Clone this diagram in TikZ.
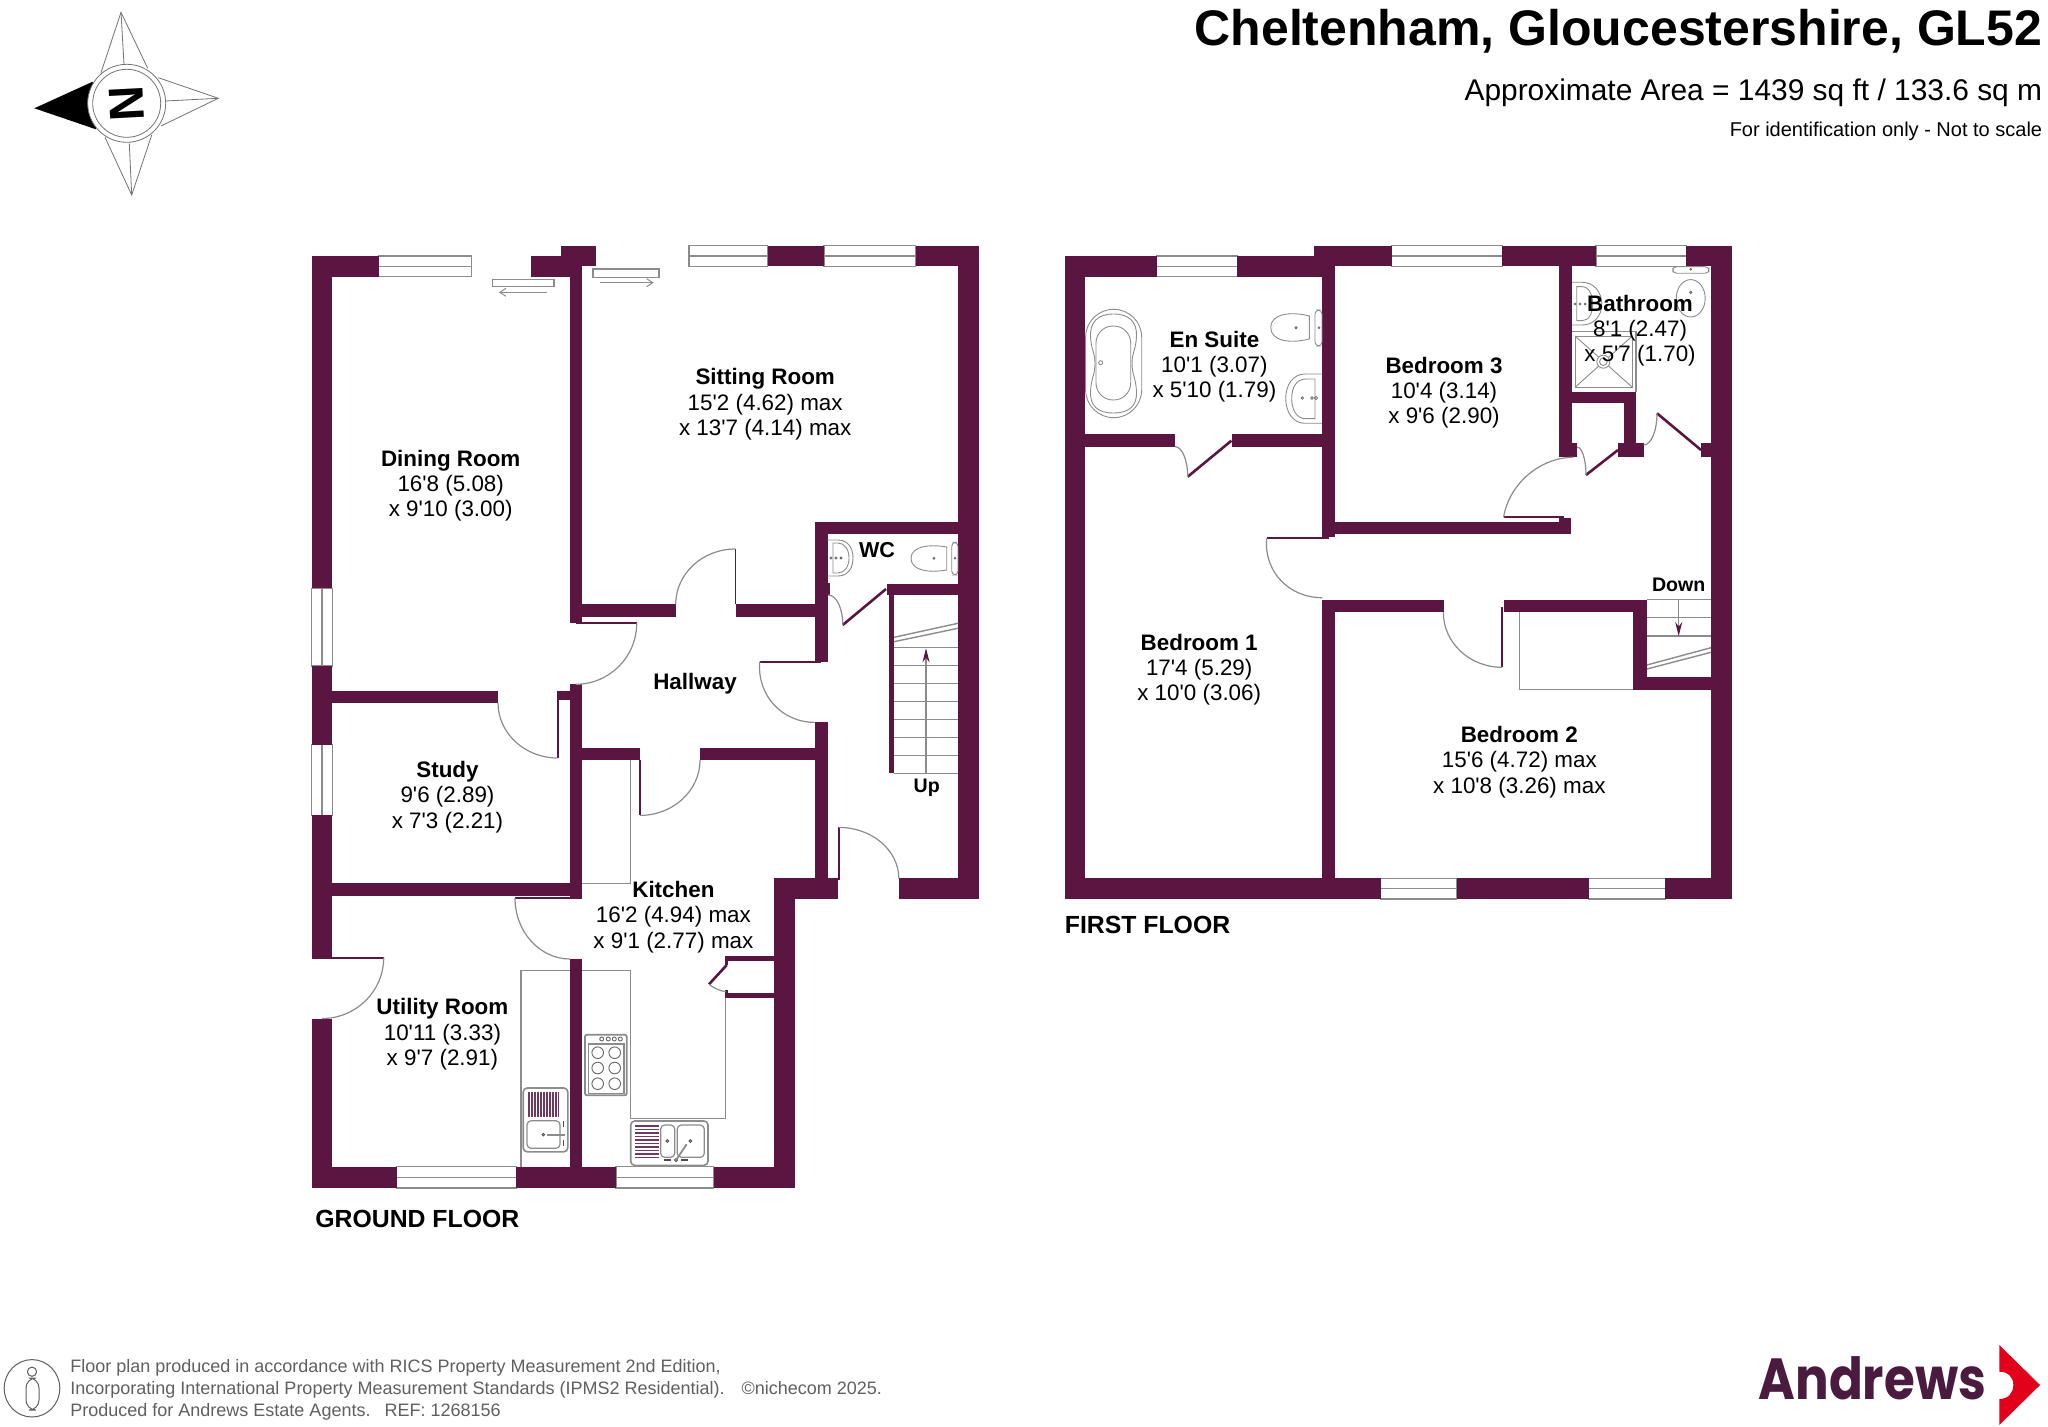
\documentclass[tikz,border=0pt]{standalone}
\usepackage{fontspec}
\setmainfont{Liberation Sans}[Ligatures=TeXOff]
\newfontfamily\logofont{Poppins}
\usetikzlibrary{calc,arrows.meta}
\definecolor{wallc}{HTML}{5A1540}
\definecolor{fixc}{HTML}{8C8C8C}
\definecolor{footc}{HTML}{606060}
\definecolor{logoc}{HTML}{4A1A3F}
\definecolor{redc}{HTML}{E2001A}
\tikzset{
  fixline/.style={draw=fixc,line width=0.6pt},
  thinfix/.style={draw=fixc,line width=0.45pt},
  stairline/.style={draw=fixc,line width=0.7pt},
  leaf/.style={draw=wallc,line width=1.3pt},
  jamb/.style={draw=wallc,line width=0.9pt},
  room/.style={align=center,inner sep=0pt,font=\fontsize{11.2}{12.6}\selectfont},
  small/.style={inner sep=0pt,font=\fontsize{9.8}{11}\selectfont\bfseries},
  floorname/.style={anchor=west,inner sep=0pt,font=\fontsize{12.4}{14}\selectfont\bfseries},
  compassline/.style={draw=black!55,line width=0.4pt,fill=white},
  slidearrow/.style={draw=fixc,line width=0.5pt,-{Straight Barb[length=3pt,width=4pt]}},
  stairarrow/.style={draw=fixc,line width=0.6pt,-{Stealth[length=7pt,width=3.5pt,color=wallc]}},
}
\def\wall(#1)(#2){\fill[wallc] (#1) rectangle (#2);}
\def\hwin(#1)(#2)(#3)(#4){\draw[fixline,fill=white] (#1,#3) rectangle (#2,#4) (#1,{(#3+#4)/2}) -- (#2,{(#3+#4)/2});}
\def\vwin(#1)(#2)(#3)(#4){\draw[fixline,fill=white] (#1,#3) rectangle (#2,#4) ({(#1+#2)/2},#3) -- ({(#1+#2)/2},#4);}
\def\doorarc(#1)(#2)(#3){\draw[fixline] (#2) .. controls ($(#2)+0.5523*(#3)-0.5523*(#1)$) and ($(#3)+0.5523*(#2)-0.5523*(#1)$) .. (#3);}
\begin{document}
\begin{tikzpicture}[x=0.5pt,y=-0.5pt]
\useasboundingbox (0,0) rectangle (2048,1427);
\fill[white] (0,0) rectangle (2048,1427);

%% ---------- compass
\draw[compassline] (101,72.7) -- (121,12.3) -- (147.7,68.3);
\draw[compassline] (121,12.3) -- (124,64.3);
\draw[compassline] (158.3,77.7) -- (218.3,98.3) -- (161,126);
\draw[compassline] (218.3,98.3) -- (165.7,101);
\draw[compassline] (105,137.3) -- (131.7,195) -- (151.7,135);
\draw[compassline] (131.7,195) -- (129.3,143.3);
\fill[black] (92.7,81.7) -- (34.3,108.3) -- (96,129.3) -- cycle;
\draw[compassline] (126.7,103.3) circle (39);
\draw[compassline] (126.7,103.3) circle (34);
\node[rotate=93,inner sep=0pt,font=\fontsize{24.5}{26}\selectfont\bfseries] (north) at (126.7,103.3) {N};

%% ---------- ground floor: windows
\hwin(378.6)(471.4)(256)(276.7)
\hwin(689)(767.5)(245.7)(266.3)
\hwin(824)(915.8)(245.7)(266.3)
\vwin(311.6)(332.2)(588.3)(666)
\vwin(311.6)(332.2)(744.8)(815.4)
\hwin(396.5)(516.4)(1166.6)(1188)
\hwin(616)(713.8)(1166.6)(1188)

%% ---------- ground floor: walls
\wall(311.6,256)(378.6,276.7)
\wall(530.6,256)(570,276.7)
\wall(561,245.7)(596.2,266.3)
\wall(569.6,256)(582,623.3)
\wall(767.5,245.7)(824,266.3)
\wall(915.8,245.7)(979,266.3)
\wall(958,245.7)(979,899)
\wall(311.6,256)(332.2,588.3)
\wall(311.6,666)(332.2,744.8)
\wall(311.6,815.4)(332.2,959)
\wall(311.6,1018.5)(332.2,1188)
\wall(311.6,1166.6)(396.5,1188)
\wall(516.4,1166.6)(616,1188)
\wall(713.8,1166.6)(795,1188)
\wall(774.4,878.4)(795,1188)
\wall(774.4,878.4)(837.8,899)
\wall(898.8,878.4)(979,899)
\wall(569.6,604.3)(675.7,616.7)
\wall(736.3,604.3)(814.8,616.7)
\wall(814.8,522)(958,534)
\wall(814.8,522)(827.7,661.7)
\wall(814.8,722.4)(827.7,878.4)
\wall(886.7,584)(958,595)
\wall(889.3,595)(894,773.3)
\wall(827,582.7)(830,595)
\wall(332,690.7)(498,702.7)
\wall(558.6,691)(582,700)
\wall(569.6,684.3)(582,899)
\wall(582,747.5)(640,760)
\wall(700,747.5)(814.8,760)
\wall(332,883.2)(582,895.6)
\wall(569.6,959)(582,1166.6)
\wall(725.7,955.7)(774.4,960.7)
\wall(725.7,992.7)(774.4,997.7)
\wall(724.5,955.7)(727.5,965)
\wall(724.5,990)(727.5,997.7)

%% ---------- ground floor: doors
\draw[jamb] (735.4,604.3) -- (735.4,549);
\doorarc(735.4,604.3)(735.4,549)(675.7,604.3)
\draw[jamb] (575.6,623.3) -- (636.7,623.3);
\doorarc(575.6,623.3)(636.7,623.3)(575.6,684.3)
\draw[jamb] (557.7,691) -- (557.7,758);
\doorarc(557.7,702.7)(557.7,758)(498,702.7)
\draw[jamb] (515,898) -- (570,898);
\doorarc(570,898)(515,898)(570,959)
\draw[jamb] (640,760) -- (640,815.4);
\doorarc(640,760)(640,815.4)(700,760)
\draw[jamb] (759.7,661.7) -- (821,661.7);
\doorarc(820,661.7)(759.7,661.7)(815,722.4)
\draw[jamb] (838.7,827.4) -- (838.7,880);
\doorarc(838.7,878.4)(838.7,827.4)(898.8,878.4)
\draw[jamb] (332,957.6) -- (383.7,957.6);
\doorarc(322,957.6)(383.7,957.6)(322,1018.5)
\draw[leaf] (842.7,625) -- (886,589);
\doorarc(828,625)(842.7,625)(828.3,595)
\draw[leaf] (726.7,965) -- (709,984.3);
\draw[fixline] (709,984.3) .. controls (714,988) and (720,991) .. (725.7,991.7);

%% ---------- sliding doors
\draw[fixline] (492.5,279.3) rectangle (554,286.7);
\draw[slidearrow] (547,292.3) -- (499,292.3);
\draw[fixline] (593,269) rectangle (659,277.3);
\draw[slidearrow] (600,282.7) -- (653.6,282.7);

%% ---------- ground floor: stairs
\foreach \yy in {773.3,755.7,737.7,719.3,701.7,683.7,665.7,647.7}
  {\draw[stairline] (894,\yy) -- (958,\yy);}
\draw[stairline] (894,637.3) -- (958,623.3) (894,641.7) -- (958,628.3);
\draw[stairarrow] (926,773.3) -- (926,648.3);

%% ---------- kitchen units
\draw[fixline] (582,883.2) -- (630.7,883.2) -- (630.7,760);
\draw[fixline] (521,1166.6) -- (521,970.7) -- (569.6,970.7);
\draw[fixline] (582,970.7) -- (630.7,970.7) -- (630.7,1118.4) -- (725.3,1118.4) -- (725.3,998);
% cooker
\draw[fixc,line width=0.9pt,rounded corners=1pt] (585,1034.7) rectangle (626.7,1095.3);
\draw[fixline] (588.3,1044) rectangle (624,1093.3);
\foreach \xa in {597.7,614.7} \foreach \ya in {1052.7,1068,1083.7}
  {\draw[thinfix,draw=black!60] (\xa,\ya) circle (5.8);}
\foreach \xa in {601.7,608.3,614.3,620.3}
  {\draw[thinfix,draw=black!60] (\xa,1039) circle (2);}
% kitchen sink
\draw[fixc,line width=0.8pt,rounded corners=2pt] (630.7,1121) rectangle (708,1165.3);
\foreach \ya in {1126,1129.5,1133,1136.5,1140,1143.5,1147,1150.5,1154,1157.5}
  {\draw[wallc!85,line width=0.6pt] (635,\ya) -- (659.3,\ya);}
\draw[fixline,rounded corners=2pt] (660.7,1125) rectangle (674.7,1157.3);
\draw[fixline,rounded corners=2pt] (677.3,1125) rectangle (704.3,1157.3);
\draw[black!70,line width=0.45pt] (667.3,1141) circle (1.4) (690.3,1141) circle (1.4) (676,1160) circle (1.6);
\draw[fixc,line width=0.9pt] (676,1160) -- (686.7,1144.3);
\draw[black!70,line width=0.7pt] (664,1160) -- (671,1160) (681,1160) -- (688,1160);
% utility sink
\draw[fixc,line width=0.8pt,rounded corners=2pt] (523.2,1088) rectangle (567.8,1151.8);
\foreach \xa in {529,532,535,538,541,544,547,550,553,556,558.6}
  {\draw[wallc!85,line width=0.6pt] (\xa,1091.5) -- (\xa,1116.7);}
\draw[fixline,rounded corners=2pt] (527,1120.8) rectangle (560,1148.3);
\draw[black!70,line width=0.45pt] (543.4,1134.6) circle (1.3);
\draw[fixc,line width=0.9pt] (547,1134.6) -- (564.6,1134.6);
\draw[black!70,line width=0.7pt] (563.6,1121) -- (563.6,1127) (563.6,1139.5) -- (563.6,1145.5);

%% ---------- WC fittings
\draw[thinfix] (827.7,540) -- (838,540) .. controls (848,540) and (853,548) .. (853,558) .. controls (853,568) and (848,576) .. (838,576) -- (827.7,576);
\draw[thinfix] (833,543) -- (838,543) .. controls (845,543) and (849,550) .. (849,558) .. controls (849,566) and (845,573) .. (838,573) -- (833,573) -- cycle;
\draw[black!60,line width=0.4pt] (831,558) circle (1.1) (836,558) circle (1.1) (841,558) circle (1);
\draw[thinfix] (946.7,547) .. controls (930,544) and (911,546) .. (911,558.3) .. controls (911,571) and (930,573) .. (946.7,570) -- cycle;
\draw[thinfix,rounded corners=2pt] (951.7,542.3) rectangle (958,575);
\draw[black!60,line width=0.4pt] (934,558.3) circle (0.9) (955,558.3) circle (0.8);

%% ---------- first floor: windows
\hwin(1156.5)(1237.3)(256)(276.7)
\hwin(1391.6)(1502.3)(245.7)(266.3)
\hwin(1596)(1686.4)(245.7)(266.3)
\hwin(1380.7)(1456.7)(878.3)(899)
\hwin(1588.7)(1665.3)(878.3)(899)

%% ---------- first floor: walls
\wall(1064.7,256)(1156.5,276.7)
\wall(1237.3,256)(1334.7,276.7)
\wall(1314,245.7)(1391.6,266.3)
\wall(1502.3,245.7)(1596,266.3)
\wall(1686.4,245.7)(1731.6,266.3)
\wall(1710.7,245.7)(1731.6,899)
\wall(1064.7,256)(1085.4,899)
\wall(1064.7,878.3)(1380.7,899)
\wall(1456.7,878.3)(1588.7,899)
\wall(1665.3,878.3)(1731.6,899)
\wall(1322.3,266)(1334.7,536.7)
\wall(1322.3,600)(1334.7,878.3)
\wall(1558.7,266)(1572,456.7)
\wall(1572,443.3)(1577,456.7)
\wall(1572,391.7)(1636.3,403.3)
\wall(1624,391.7)(1636.3,456.7)
\wall(1618.4,443.3)(1643.7,456.7)
\wall(1701,443.3)(1710.7,456.7)
\wall(1085.4,434.3)(1175,447.3)
\wall(1231.8,434.3)(1322.3,447.3)
\wall(1334.7,522)(1571,534.3)
\wall(1558.7,518)(1571,534.3)
\wall(1322.3,600)(1443.5,612.3)
\wall(1503.6,600)(1646.9,612.3)
\wall(1633.3,600)(1646.9,690)
\wall(1633.3,677.3)(1711,690)

%% ---------- first floor: doors
\draw[leaf] (1231.4,440.7) -- (1187.7,476.7);
\doorarc(1175,476.7)(1187.7,476.7)(1175,446.7)
\draw[leaf] (1618,450) -- (1586,475);
\doorarc(1577,475)(1586,475)(1577,447)
\draw[leaf] (1701,450) -- (1657,413.3);
\doorarc(1643.7,413.3)(1657,413.3)(1643.7,445)
\draw[jamb] (1503.6,517.3) -- (1564,517.3);
\doorarc(1564,517.3)(1503.6,517.3)(1573.4,457.3)
\draw[jamb] (1266.7,538.3) -- (1328.7,538.3);
\doorarc(1328,538.3)(1266.7,538.3)(1322.3,597.7)
\draw[jamb] (1502,606.7) -- (1502,667.3);
\doorarc(1502,612.3)(1502,667.3)(1443.3,612.3)

%% ---------- first floor: stairs
\draw[fixline] (1519.3,612.3) -- (1519.3,689.3) -- (1633.3,689.3);
\foreach \yy in {599.3,617.7,636}
  {\draw[stairline] (1646.9,\yy) -- (1711,\yy);}
\draw[stairline] (1646.9,665) -- (1711,647.7) (1646.9,669) -- (1711,652.3);
\draw[stairarrow] (1678.7,599.3) -- (1678.7,636);

%% ---------- en suite fittings
\draw[thinfix,rounded corners=14pt] (1085.6,309.3) rectangle (1141.7,417.7);
\draw[thinfix] (1113.5,314) .. controls (1098,314) and (1090,322) .. (1090.5,336) .. controls (1091,350) and (1095,352) .. (1095,363.5) .. controls (1095,375) and (1091,378) .. (1090.5,392) .. controls (1090,406) and (1098,413) .. (1113.5,413) .. controls (1129,413) and (1137,406) .. (1136.5,392) .. controls (1136,378) and (1132,375) .. (1132,363.5) .. controls (1132,352) and (1136,350) .. (1136.5,336) .. controls (1137,322) and (1129,314) .. (1113.5,314) -- cycle;
\draw[thinfix,rounded corners=8.5pt] (1096,326) rectangle (1130.7,400);
\draw[thinfix] (1100.7,362.7) circle (2);
\draw[thinfix] (1309.3,316) .. controls (1290,311) and (1270.7,314) .. (1270.7,327.5) .. controls (1270.7,341) and (1290,344) .. (1309.3,339) -- cycle;
\draw[thinfix,rounded corners=2pt] (1315,310) rectangle (1322,346);
\draw[black!60,fill=black!40,line width=0.3pt] (1296,327.7) circle (1.2) (1319,327.7) circle (1);
\draw[thinfix] (1322,374) -- (1305,374) .. controls (1293,374) and (1285.7,385) .. (1285.7,398.5) .. controls (1285.7,412) and (1293,423.3) .. (1305,423.3) -- (1322,423.3);
\draw[thinfix] (1315,379) -- (1306,379) .. controls (1296,379) and (1291.7,388) .. (1291.7,398.5) .. controls (1291.7,409) and (1296,418.7) .. (1306,418.7) -- (1315,418.7) -- cycle;
\draw[black!60,line width=0.35pt] (1302.3,398) circle (1.3) (1312,398) circle (1.4) (1316,398) circle (1.6);

%% ---------- bathroom fittings
\draw[thinfix] (1572,282.3) -- (1582,282.3) .. controls (1594,282.3) and (1601.7,292) .. (1601.7,304) .. controls (1601.7,316) and (1594,325) .. (1582,325) -- (1572,325);
\draw[thinfix] (1576.7,286.7) -- (1582,286.7) .. controls (1589,286.7) and (1592.7,295) .. (1592.7,304) .. controls (1592.7,313) and (1589,320.7) .. (1582,320.7) -- (1576.7,320.7) -- cycle;
\draw[black!60,line width=0.35pt] (1575,304) circle (1) (1580,304) circle (1) (1585,304) circle (1);
\draw[fixline] (1572,331.7) -- (1636,331.7) -- (1636,391.7);
\draw[thinfix] (1575,336) rectangle (1632.3,387.3);
\draw[thinfix] (1575,336) -- (1632.3,387.3) (1632.3,336) -- (1575,387.3);
\draw[thinfix,fill=white] (1603.3,361.7) circle (6.5);
\draw[thinfix] (1603.3,361.7) circle (3.8);
\draw[thinfix,rounded corners=2pt] (1672.7,266.7) rectangle (1709,273.3);
\draw[thinfix] (1690.7,298.3) ellipse (14.5 and 18.7);
\draw[black!60,fill=black!40,line width=0.3pt] (1690.7,269.3) circle (1) (1690.7,292.3) circle (1.3);

%% ---------- room labels
\node[room] (sitting) at (765.2,404.3) {\textbf{Sitting Room}\\15'2 (4.62) max\\x 13'7 (4.14) max};
\node[room] (dining) at (450.7,485.5) {\textbf{Dining Room}\\16'8 (5.08)\\x 9'10 (3.00)};
\node[room,font=\fontsize{11.2}{12.6}\selectfont\bfseries] (hallway) at (695,683.8) {Hallway};
\node[room] (study) at (447.5,797) {\textbf{Study}\\9'6 (2.89)\\x 7'3 (2.21)};
\node[room] (kitchen) at (673.4,917) {\textbf{Kitchen}\\16'2 (4.94) max\\x 9'1 (2.77) max};
\node[room] (utility) at (442.4,1034.3) {\textbf{Utility Room}\\10'11 (3.33)\\x 9'7 (2.91)};
\node[room,font=\fontsize{10.8}{12}\selectfont\bfseries] (wc) at (877,550) {WC};
\node[small] (up) at (926.7,787.5) {Up};
\node[floorname] (ground) at (315,1219) {GROUND FLOOR};
\node[room] (ensuite) at (1214.4,367) {\textbf{En Suite}\\10'1 (3.07)\\x 5'10 (1.79)};
\node[room] (bed3) at (1444,393) {\textbf{Bedroom 3}\\10'4 (3.14)\\x 9'6 (2.90)};
\node[room] (bath) at (1640,330.5) {\textbf{Bathroom}\\8'1 (2.47)\\x 5'7 (1.70)};
\node[room] (bed1) at (1199.2,669.5) {\textbf{Bedroom 1}\\17'4 (5.29)\\x 10'0 (3.06)};
\node[room] (bed2) at (1519.3,762) {\textbf{Bedroom 2}\\15'6 (4.72) max\\x 10'8 (3.26) max};
\node[small] (down) at (1678.7,584.8) {Down};
\node[floorname] (first) at (1064.5,925) {FIRST FLOOR};

%% ---------- heading
\node[anchor=east,inner sep=0pt,font=\fontsize{25}{27}\selectfont\bfseries] (title) at (2042.5,31) {Cheltenham, Gloucestershire, GL52};
\node[anchor=east,inner sep=0pt,font=\fontsize{14.95}{17}\selectfont] (area) at (2042.5,93) {Approximate Area = 1439 sq ft / 133.6 sq m};
\node[anchor=east,inner sep=0pt,font=\fontsize{10}{12}\selectfont] (note) at (2042.5,131) {For identification only - Not to scale};

%% ---------- footer
\draw[footc,line width=0.5pt] (32,1388.3) ellipse (27.8 and 28.7);
\draw[footc,line width=0.5pt] (32,1371.7) circle (4.6);
\draw[footc,line width=0.5pt,rounded corners=5pt] (26,1378) rectangle (39,1410);
\node[anchor=west,align=left,inner sep=0pt,text=footc,font=\fontsize{9.0}{11.1}\selectfont] (foot) at (70,1390) {Floor plan produced in accordance with RICS Property Measurement 2nd Edition,\\Incorporating International Property Measurement Standards (IPMS2 Residential).\hspace{8.5pt}©nichecom 2025.\\Produced for Andrews Estate Agents.\hspace{7pt}REF: 1268156};

%% ---------- logo
\node[anchor=base west,inner sep=0pt,text=logoc,font=\fontsize{29}{31}\selectfont\logofont\bfseries] (logo) at (1758.3,1399) {\scalebox{0.86}[1]{Andrews}};
\fill[redc] (1999.3,1345) -- (2040,1385) -- (1999.3,1425) -- (1999.3,1399) .. controls (2008,1399) and (2013.3,1393) .. (2013.3,1385) .. controls (2013.3,1377) and (2008,1371.7) .. (1999.3,1371.7) -- cycle;
\end{tikzpicture}
\end{document}
